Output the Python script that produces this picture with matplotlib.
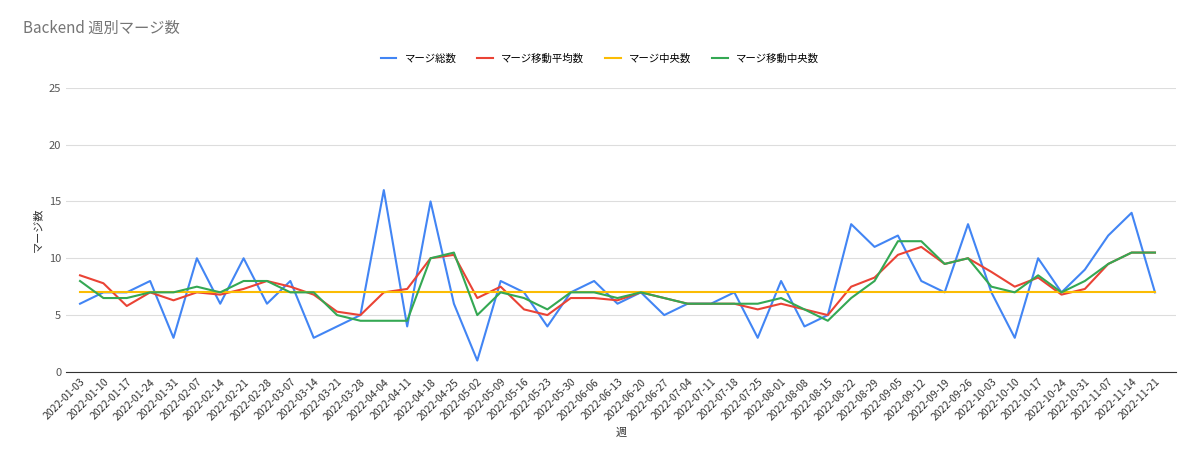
import matplotlib
matplotlib.use("Agg")
import matplotlib.pyplot as plt
import pandas as pd

plt.rcParams['font.family'] = ['Noto Sans CJK JP', 'DejaVu Sans']

weeks = [d.strftime('%Y-%m-%d') for d in pd.date_range('2022-01-03', '2022-11-21', freq='7D')]
total = [6,7,7,8,3,10,6,10,6,8,3,4,5,16,4,15,6,1,8,7,4,7,8,6,7,5,6,6,7,3,8,4,5,13,11,12,8,7,13,7,3,10,7,9,12,14,7]
mov_avg = [8.5,7.8,5.8,7,6.3,7,6.8,7.3,8,7.5,6.8,5.3,5,7,7.3,10,10.3,6.5,7.5,5.5,5,6.5,6.5,6.3,7,6.5,6,6,6,5.5,6,5.5,5,7.5,8.3,10.3,11,9.5,10,8.8,7.5,8.3,6.8,7.3,9.5,10.5,10.5]
median = [7]*len(weeks)
mov_med = [8,6.5,6.5,7,7,7.5,7,8,8,7,7,5,4.5,4.5,4.5,10,10.5,5,7,6.5,5.5,7,7,6.5,7,6.5,6,6,6,6,6.5,5.5,4.5,6.5,8,11.5,11.5,9.5,10,7.5,7,8.5,7,8,9.5,10.5,10.5]

fig = plt.figure(figsize=(12, 4.62), dpi=100)
ax = fig.add_axes([0.055, 0.195, 0.925, 0.615])
x = range(len(weeks))
ax.plot(x, total, color='#4285f4', lw=1.5, label='マージ総数')
ax.plot(x, mov_avg, color='#ea4335', lw=1.5, label='マージ移動平均数')
ax.plot(x, median, color='#fbbc04', lw=1.5, label='マージ中央数')
ax.plot(x, mov_med, color='#34a853', lw=1.5, label='マージ移動中央数')
ax.set_ylim(0, 25)
ax.set_yticks([0, 5, 10, 15, 20, 25])
ax.set_xlim(-0.6, len(weeks) - 0.1)
ax.set_xticks(list(x))
ax.set_xticklabels(weeks, rotation=45, ha='right', rotation_mode='anchor', fontsize=7.5, color='#333333')
ax.tick_params(axis='y', labelsize=8, colors='#555555', length=0)
ax.tick_params(axis='x', length=0)
ax.grid(axis='y', color='#dddddd', lw=0.8)
for s in ['top', 'right', 'left']:
    ax.spines[s].set_visible(False)
ax.spines['bottom'].set_color('#333333')
ax.set_xlabel('週', fontsize=8, color='#333333')
ax.set_ylabel('マージ数', fontsize=8, color='#333333')
fig.legend(loc='upper center', bbox_to_anchor=(0.5, 0.905), ncol=4, frameon=False, fontsize=7.5, handlelength=1.5)
fig.text(0.019, 0.93, 'Backend 週別マージ数', fontsize=11, color='#757575')
fig.savefig('out.png')
